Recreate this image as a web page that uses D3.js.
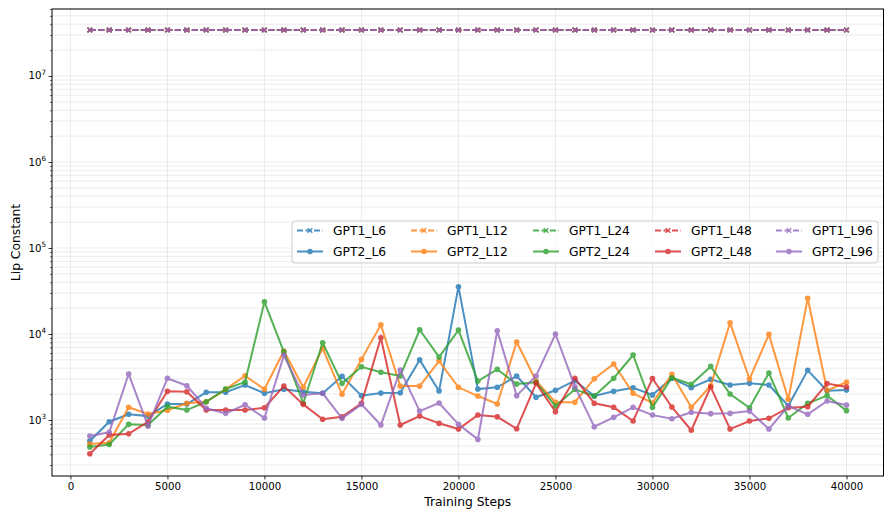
<!DOCTYPE html>
<html>
<head>
<meta charset="utf-8">
<script src="https://cdn.jsdelivr.net/npm/d3@7"></script>
<style>
  html, body { margin: 0; padding: 0; background: #fff; }
  svg { display: block; font-family: "DejaVu Sans", sans-serif; }
</style>
</head>
<body>
<svg id="chart" width="884" height="514"></svg>
<script>
// ---------------- DATA ----------------
const steps = [1000,2000,3000,4000,5000,6000,7000,8000,9000,10000,
  11000,12000,13000,14000,15000,16000,17000,18000,19000,20000,
  21000,22000,23000,24000,25000,26000,27000,28000,29000,30000,
  31000,32000,33000,34000,35000,36000,37000,38000,39000,40000];

const gpt1Values = [3.43e7,3.43e7,3.43e7,3.43e7,3.43e7,3.43e7,3.43e7,3.43e7,3.43e7,3.43e7,
  3.43e7,3.43e7,3.43e7,3.43e7,3.43e7,3.43e7,3.43e7,3.43e7,3.43e7,3.43e7,
  3.43e7,3.43e7,3.43e7,3.43e7,3.43e7,3.43e7,3.43e7,3.43e7,3.43e7,3.43e7,
  3.43e7,3.43e7,3.43e7,3.43e7,3.43e7,3.43e7,3.43e7,3.43e7,3.43e7,3.43e7];

const gpt2_L6 = [570,955,1165,1110,1535,1535,2100,2100,2550,2045,
  2275,2135,2045,3220,1920,2060,2075,5000,2170,35500,
  2290,2400,3250,1840,2215,2865,1900,2155,2375,1960,
  3060,2375,2970,2550,2670,2550,1465,3780,2190,2230];

const gpt2_L12 = [525,545,1405,1175,1300,1565,1630,2275,3275,2275,
  6350,2400,6800,1990,5070,12800,2480,2480,4850,2400,
  1900,1535,8080,2840,1610,1610,3020,4480,2045,1580,
  3400,1405,2505,13500,2995,9900,1740,26000,2215,2750];

const gpt2_L24 = [485,520,890,875,1430,1305,1630,2290,2765,23700,
  6200,1565,7920,2670,4160,3590,3250,11200,5400,11100,
  2840,3880,2620,2750,1455,2275,1900,3060,5700,1405,
  3100,2600,4200,2005,1390,3520,1055,1565,1920,1285];

const gpt2_L48 = [405,670,690,955,2155,2135,1305,1305,1305,1390,
  2480,1520,1020,1090,1565,9060,875,1110,915,785,
  1145,1090,790,2670,1250,3060,1565,1405,975,3040,
  1415,760,2420,785,975,1045,1390,1430,2650,2420];

const gpt2_L96 = [650,720,3430,850,3060,2505,1370,1195,1505,1055,
  5650,1955,2045,1045,1520,875,3810,1270,1575,890,
  595,10900,1920,3250,10000,2440,835,1075,1405,1140,
  1035,1230,1185,1195,1270,785,1455,1165,1665,1495];

const seriesNames = ["GPT1_L6","GPT2_L6","GPT1_L12","GPT2_L12","GPT1_L24","GPT2_L24","GPT1_L48","GPT2_L48","GPT1_L96","GPT2_L96"];
const seriesData  = [gpt1Values,gpt2_L6,gpt1Values,gpt2_L12,gpt1Values,gpt2_L24,gpt1Values,gpt2_L48,gpt1Values,gpt2_L96];
const colors = ["#1f77b4","#ff7f0e","#2ca02c","#d62728","#9467bd"];

const xTicks = [0,5000,10000,15000,20000,25000,30000,35000,40000];
const yMajor = [1e3,1e4,1e5,1e6,1e7];

// ---------------- LAYOUT ----------------
const L = 52, R = 883.5, T = 9, B = 476;
const svg = d3.select("#chart");

const x = d3.scaleLinear().domain([-950, 41950]).range([L, L + (41950 + 950) * ((846.5 - 52) / 40950)]);
const y = d3.scaleLog().domain([Math.pow(10, 2.349), Math.pow(10, 7.779)]).range([B, T]);

const yMinor = [];
for (let e = 2; e <= 7; e++) for (let m = 2; m <= 9; m++) {
  const v = m * Math.pow(10, e);
  if (v >= y.domain()[0] && v <= y.domain()[1]) yMinor.push(v);
}

// grid
const grid = svg.append("g");
grid.selectAll("line.gx").data(xTicks).enter().append("line")
  .attr("x1", d => x(d)).attr("x2", d => x(d)).attr("y1", T).attr("y2", B)
  .attr("stroke", "#b0b0b0").attr("stroke-opacity", 0.3).attr("stroke-width", 0.8);
grid.selectAll("line.gy").data(yMajor.concat(yMinor)).enter().append("line")
  .attr("x1", L).attr("x2", R).attr("y1", d => y(d)).attr("y2", d => y(d))
  .attr("stroke", "#b0b0b0").attr("stroke-opacity", 0.3).attr("stroke-width", 0.8);

// series
const line = d3.line().x((d, i) => x(steps[i])).y(d => y(d));
const plot = svg.append("g");
seriesNames.forEach((name, si) => {
  const col = colors[Math.floor(si / 2)];
  const data = seriesData[si];
  const dashed = si % 2 === 0;
  const g = plot.append("g").attr("opacity", 0.8);
  g.append("path").datum(data).attr("d", line)
    .attr("fill", "none").attr("stroke", col).attr("stroke-width", 2)
    .attr("stroke-dasharray", dashed ? "6,2.5" : null);
  if (dashed) {
    g.selectAll("path.m").data(data).enter().append("path")
      .attr("d", (d, i) => {
        const cx = x(steps[i]), cy = y(d), s = 2.3;
        return `M${cx - s},${cy - s}L${cx + s},${cy + s}M${cx - s},${cy + s}L${cx + s},${cy - s}`;
      })
      .attr("stroke", col).attr("stroke-width", 1.5).attr("fill", "none");
  } else {
    g.selectAll("circle").data(data).enter().append("circle")
      .attr("cx", (d, i) => x(steps[i])).attr("cy", d => y(d)).attr("r", 2.8)
      .attr("fill", col);
  }
});

// axes
const xAxis = svg.append("g").attr("transform", `translate(0,${B})`)
  .call(d3.axisBottom(x).tickValues(xTicks).tickFormat(d3.format("d")).tickSize(3.5).tickPadding(3.5));
xAxis.select(".domain").remove();
xAxis.selectAll("text").attr("font-size", "10.2px").attr("fill", "#000").attr("font-family", "DejaVu Sans");
xAxis.selectAll("line").attr("stroke", "#000").attr("stroke-width", 0.8);

const yAxis = svg.append("g").attr("transform", `translate(${L},0)`)
  .call(d3.axisLeft(y).tickValues(yMajor).tickFormat("").tickSize(3.5));
yAxis.select(".domain").remove();
yAxis.selectAll("line").attr("stroke", "#000").attr("stroke-width", 0.8);
const yAxisMinor = svg.append("g").attr("transform", `translate(${L},0)`)
  .call(d3.axisLeft(y).tickValues(yMinor).tickFormat("").tickSize(2));
yAxisMinor.select(".domain").remove();
yAxisMinor.selectAll("line").attr("stroke", "#000").attr("stroke-width", 0.6);

// y labels with superscripts
yMajor.forEach(v => {
  const e = Math.round(Math.log10(v));
  const t = svg.append("text").attr("x", 46).attr("y", y(v) + 3.5)
    .attr("text-anchor", "end").attr("font-size", "10.2px").attr("fill", "#000");
  t.append("tspan").text("10");
  t.append("tspan").attr("dy", -4.5).attr("font-size", "7.2px").text(String(e));
});

// frame
svg.append("rect").attr("x", L).attr("y", T).attr("width", R - L).attr("height", B - T)
  .attr("fill", "none").attr("stroke", "#000").attr("stroke-width", 1);

// axis titles
svg.append("text").attr("x", (L + R) / 2).attr("y", 506).attr("text-anchor", "middle")
  .attr("font-size", "12.3px").attr("fill", "#000").text("Training Steps");
svg.append("text").attr("transform", `translate(20,${(T + B) / 2}) rotate(-90)`)
  .attr("text-anchor", "middle").attr("font-size", "12.3px").attr("fill", "#000").text("Lip Constant");

// legend
const legX = 292, legY = 221, legW = 586, legH = 42;
const leg = svg.append("g");
leg.append("rect").attr("x", legX).attr("y", legY).attr("width", legW).attr("height", legH)
  .attr("rx", 3).attr("fill", "#fff").attr("fill-opacity", 0.8).attr("stroke", "#cccccc").attr("stroke-width", 1);
const colX = [297, 411, 533, 655, 776];
const rowY = [230.5, 251.5];
seriesNames.forEach((name, si) => {
  const c = Math.floor(si / 2), r = si % 2;
  const col = colors[c];
  const hx = colX[c], hy = rowY[r];
  const g = leg.append("g").attr("opacity", 0.8);
  g.append("line").attr("x1", hx).attr("x2", hx + 26).attr("y1", hy).attr("y2", hy)
    .attr("stroke", col).attr("stroke-width", 2).attr("stroke-dasharray", r === 0 ? "6,2.5" : null);
  const cx = hx + 13;
  if (r === 0) {
    const s = 2.3;
    g.append("path").attr("d", `M${cx - s},${hy - s}L${cx + s},${hy + s}M${cx - s},${hy + s}L${cx + s},${hy - s}`)
      .attr("stroke", col).attr("stroke-width", 1.5);
  } else {
    g.append("circle").attr("cx", cx).attr("cy", hy).attr("r", 2.8).attr("fill", col);
  }
  leg.append("text").attr("x", hx + 36).attr("y", hy + 4.3).attr("font-size", "12.3px")
    .attr("fill", "#000").text(name);
});
</script>
</body>
</html>
